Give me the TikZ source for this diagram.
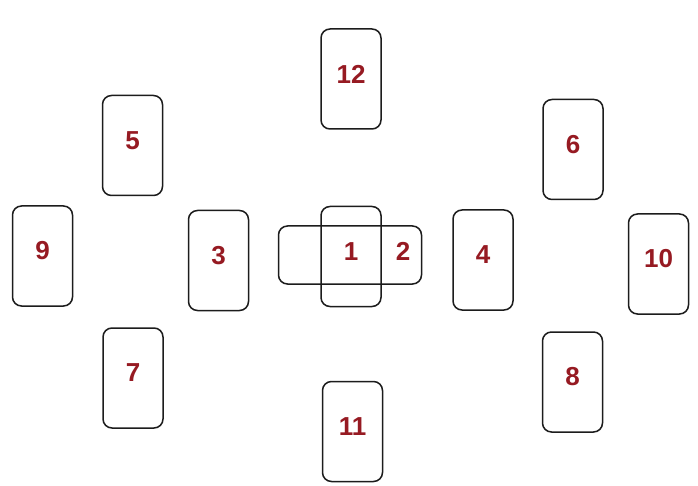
\documentclass[tikz,border=0pt]{standalone}
\usepackage{fontspec}
\newfontfamily\cardfont{Liberation Sans}
\usepackage{tikz}
\usetikzlibrary{positioning}
\definecolor{cardred}{RGB}{150,26,34}
\definecolor{cardline}{RGB}{28,28,28}
\tikzset{
  cardbox/.style={draw=cardline, rounded corners=9pt, minimum width=60pt, minimum height=100pt,
      line width=1.5pt, inner sep=0pt},
  crossbox/.style={cardbox, minimum width=143pt, minimum height=58pt},
  cardnum/.style={font=\cardfont\bfseries\fontsize{26}{30}\selectfont, text=cardred, inner sep=0pt},
}

\begin{document}
\begin{tikzpicture}[x=1pt, y=1pt]
      \useasboundingbox[fill=white] (0,0) rectangle (698,485);

      % === centre: card 2 crossing card 1 ===
      \node[crossbox] (c2) at (350,230) {};
      \node[cardbox] (c1) at (351,228.5) {};
      \node[cardnum] (n1) at ([yshift=5pt]c1.center) {1};
      \node[cardnum] (n2) at (403,234) {2};

      % === inner ring ===
      \node[cardbox] (c3) at (218.5,224.5) {};
      \node[cardbox] (c4) at (483,225) {};
      \node[cardbox] (c12) at (351,406) {};
      \node[cardbox] (c11) at (352.5,53.5) {};

      % === corners ===
      \node[cardbox] (c5) at (132.5,339.5) {};
      \node[cardbox] (c6) at (573,335.5) {};
      \node[cardbox] (c7) at (133,107) {};
      \node[cardbox] (c8) at (572.5,103) {};

      % === outer left and right ===
      \node[cardbox] (c9) at (42.5,229) {};
      \node[cardbox] (c10) at (658.5,221) {};

      % numbers
      \foreach \i in {3,...,12}
        \node[cardnum] (n\i) at ([yshift=5pt]c\i.center) {\i};
\end{tikzpicture}
\end{document}
